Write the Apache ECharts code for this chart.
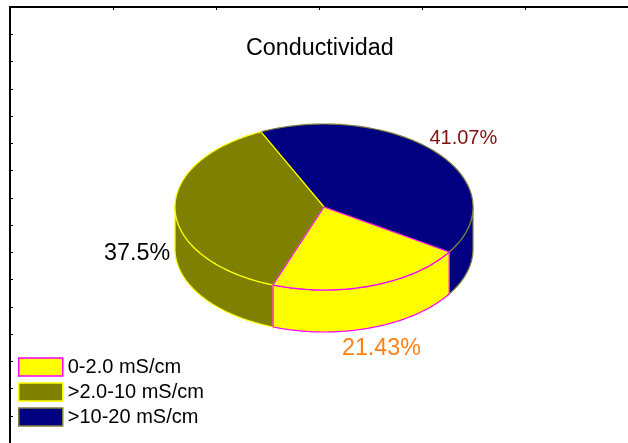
<!DOCTYPE html>
<html>
<head>
<meta charset="utf-8">
<style>html,body{margin:0;padding:0;background:#fff}#c{width:628px;height:443px}</style>
<script src="https://cdn.jsdelivr.net/npm/echarts@6/dist/echarts.min.js"></script>
</head>
<body>
<div id="c"></div>
<script>
const categories = ['0-2.0 mS/cm', '>2.0-10 mS/cm', '>10-20 mS/cm'];
const values = [21.43, 37.5, 41.07];
const valueLabels = ['21.43%', '37.5%', '41.07%'];
const fillColors = ['#ffff00', '#808000', '#000080'];
const edgeColors = ['#ff00ff', '#ffff00', '#80803c'];
const labelColors = ['#ff8014', '#000000', '#7f1010'];
const labelSizes = [23.3, 23.3, 20];
const labelOffsets = [[10, 63], [-5, 43], [27, -14]];
const chartTitle = 'Conductividad';

const FONT = '"Liberation Sans", Arial, sans-serif';
const PIE = { cx: 324, cy: 207, rx: 149, ry: 83, depth: 42, start: 32.85 };
const total = values.reduce((a, b) => a + b, 0);
const rad = d => d * Math.PI / 180;
const onTop = d => [PIE.cx + PIE.rx * Math.cos(rad(d)), PIE.cy + PIE.ry * Math.sin(rad(d))];
const arc = (a, b) => {
  const pts = [];
  const n = Math.max(2, Math.ceil(Math.abs(b - a)));
  for (let i = 0; i <= n; i++) pts.push(onTop(a + (b - a) * i / n));
  return pts;
};

function sliceRenderer(index) {
  return function (params, api) {
    const before = values.slice(0, index).reduce((a, b) => a + b, 0);
    const a0 = PIE.start + before / total * 360;
    const a1 = a0 + api.value(0) / total * 360;
    const style = { fill: fillColors[index], stroke: edgeColors[index], lineWidth: 1.2, lineJoin: 'round' };
    const z2 = 10 - index;
    const children = [];
    [[0, 180], [360, 540]].forEach(([lo, hi]) => {
      const s = Math.max(a0, lo), e = Math.min(a1, hi);
      if (e > s) {
        const upper = arc(s, e);
        const lower = upper.map(p => [p[0], p[1] + PIE.depth]).reverse();
        children.push({ type: 'polygon', z2, shape: { points: upper.concat(lower) }, style });
      }
    });
    children.push({ type: 'polygon', z2: z2 + 10, shape: { points: [[PIE.cx, PIE.cy]].concat(arc(a0, a1)) }, style });
    const mid = onTop((a0 + a1) / 2);
    children.push({
      type: 'text', z2: 40,
      style: {
        text: valueLabels[index],
        x: mid[0] + labelOffsets[index][0],
        y: mid[1] + labelOffsets[index][1],
        fill: labelColors[index],
        font: labelSizes[index] + 'px ' + FONT,
        align: index === 1 ? 'right' : 'center',
        verticalAlign: 'middle'
      }
    });
    return { type: 'group', children };
  };
}

const chart = echarts.init(document.getElementById('c'), null, { renderer: 'canvas' });
chart.setOption({
  animation: false,
  backgroundColor: '#ffffff',
  title: {
    text: chartTitle,
    left: 246, top: 37, padding: 0,
    textStyle: { fontFamily: FONT, fontSize: 23.3, fontWeight: 'normal', color: '#000' }
  },
  legend: {
    orient: 'vertical', left: 18, top: 357, padding: 0,
    itemWidth: 44, itemHeight: 18, itemGap: 5,
    selectedMode: false,
    textStyle: { fontFamily: FONT, fontSize: 20, lineHeight: 18, color: '#000' },
    data: categories.map((name, i) => ({
      name, icon: 'rect',
      itemStyle: { color: fillColors[i], borderColor: edgeColors[i], borderWidth: 1.5 }
    }))
  },
  grid: { left: 10, top: 7, width: 627.6, height: 440, containLabel: false },
  xAxis: {
    type: 'value', position: 'top', min: 0, max: 6, interval: 1,
    axisLine: { show: true, lineStyle: { color: '#000', width: 2 } },
    axisTick: { show: true, inside: true, length: 3, lineStyle: { color: '#000', width: 1 } },
    axisLabel: { show: false }, splitLine: { show: false }
  },
  yAxis: {
    type: 'value', inverse: true, min: 0, max: 16, interval: 1,
    axisLine: { show: true, lineStyle: { color: '#000', width: 2 } },
    axisTick: { show: true, inside: true, length: 3, lineStyle: { color: '#000', width: 1 } },
    axisLabel: { show: false }, splitLine: { show: false }
  },
  series: categories.map((name, i) => ({
    type: 'custom', name, coordinateSystem: 'none',
    itemStyle: { color: fillColors[i] },
    data: [[values[i]]],
    encode: { value: 0 },
    silent: true,
    renderItem: sliceRenderer(i)
  }))
});
</script>
</body>
</html>
